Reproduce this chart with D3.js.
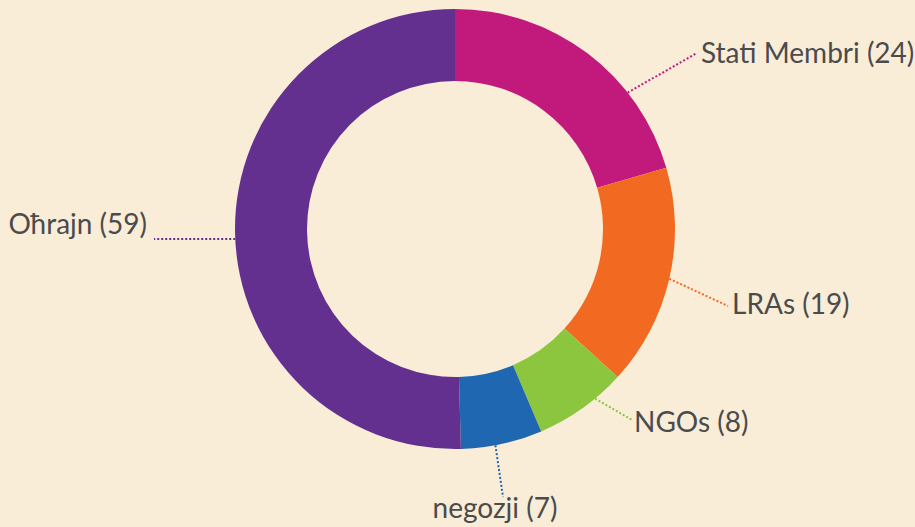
<!DOCTYPE html>
<html>
<head>
<meta charset="utf-8">
<script src="https://cdn.jsdelivr.net/npm/d3@7"></script>
<style>
  html, body { margin: 0; padding: 0; background: #f9edd8; }
  svg { display: block; }
  .lbl { font-family: Lato, "Open Sans", sans-serif; font-size: 28px; fill: #4b4b4d; }
</style>
</head>
<body>
<script>
// data
const categories = ['Stati Membri', 'LRAs', 'NGOs', 'negozji', 'Oħrajn'];
const values = [24, 19, 8, 7, 59];
const colours = ['#c2197c', '#f26a22', '#8cc63f', '#1f67b0', '#63308f'];

const width = 915, height = 527;
const cx = 455, cy = 229;
const outerR = 220, innerR = 148;

// where on each slice the leader starts (fraction of slice) and where the label sits
const leadFrac = [0.70, 0.50, 0.33, 0.58, 0.49];
const labelPos = [
  {x: 697, y: 53, anchor: 'start', dx: 4, dy: 10},
  {x: 728, y: 306, anchor: 'start', dx: 4, dy: 8},
  {x: 632, y: 420, anchor: 'start', dx: 2, dy: 12},
  {x: 503, y: 497, anchor: 'middle', dx: -8, dy: 21},
  {x: 154, y: 239, anchor: 'end', dx: -7, dy: -5}
];

const svg = d3.select('body').append('svg')
  .attr('width', width)
  .attr('height', height);

const g = svg.append('g')
  .attr('transform', `translate(${cx},${cy})`);

const pie = d3.pie().sort(null).value(d => d);
const arcs = pie(values);

const arc = d3.arc()
  .innerRadius(innerR)
  .outerRadius(outerR);

g.selectAll('path.slice')
  .data(arcs)
  .join('path')
  .attr('class', 'slice')
  .attr('d', arc)
  .attr('fill', (d, i) => colours[i]);

// leader lines + labels
arcs.forEach((a, i) => {
  const ang = a.startAngle + (a.endAngle - a.startAngle) * leadFrac[i];
  const x0 = cx + Math.sin(ang) * outerR;
  const y0 = cy - Math.cos(ang) * outerR;
  const p = labelPos[i];
  svg.append('line')
    .attr('x1', x0).attr('y1', y0)
    .attr('x2', p.x).attr('y2', p.y)
    .attr('stroke', colours[i])
    .attr('stroke-width', 2)
    .attr('stroke-dasharray', '2,2');
  svg.append('text')
    .attr('class', 'lbl')
    .attr('x', p.x + p.dx)
    .attr('y', p.y + p.dy)
    .attr('text-anchor', p.anchor)
    .text(`${categories[i]} (${values[i]})`);
});
</script>
</body>
</html>
